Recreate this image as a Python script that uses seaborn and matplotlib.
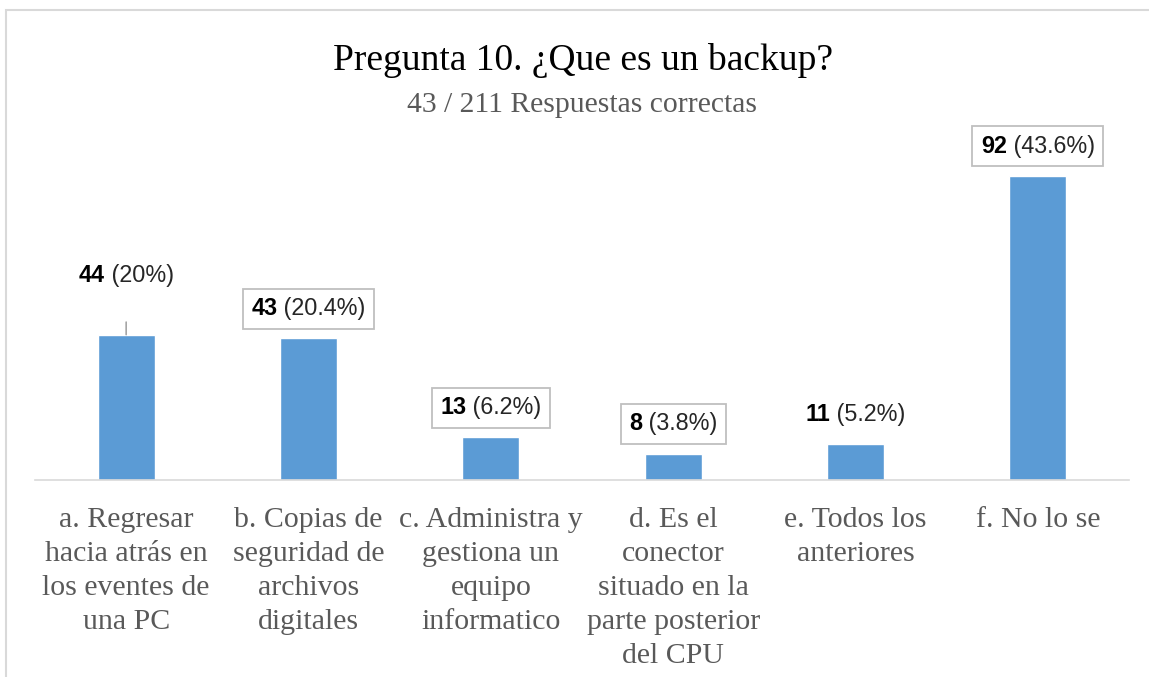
import matplotlib
matplotlib.use("Agg")
import matplotlib.pyplot as plt
import seaborn as sns
import pandas as pd
from matplotlib.offsetbox import TextArea, HPacker, AnnotationBbox
from matplotlib.patches import Rectangle

categories = [
    "a. Regresar\nhacia atrás en\nlos eventes de\nuna PC",
    "b. Copias de\nseguridad de\narchivos\ndigitales",
    "c. Administra y\ngestiona un\nequipo\ninformatico",
    "d. Es el\nconector\nsituado en la\nparte posterior\ndel CPU",
    "e. Todos los\nanteriores",
    "f. No lo se",
]
counts = [44, 43, 13, 8, 11, 92]
pcts = ["20%", "20.4%", "6.2%", "3.8%", "5.2%", "43.6%"]
label_y = [62.0, 51.8, 21.8, 17.0, 19.7, 101.0]
boxed = [False, True, True, True, False, True]
leader = [True, False, False, False, False, False]

title = "Pregunta 10. ¿Que es un backup?"
subtitle = "43 / 211 Respuestas correctas"

sns.set_theme(style="white")
plt.rcParams["font.family"] = ["Liberation Serif", "DejaVu Serif"]

W, H = 1149, 677
fig = plt.figure(figsize=(W / 100, H / 100), dpi=100)
ax = fig.add_axes([35 / W, 1 - 480 / H, (1129 - 35) / W, 330.4 / H])

df = pd.DataFrame({"cat": categories, "n": counts})
sns.barplot(data=df, x="cat", y="n", color="#5B9BD5", saturation=1, width=0.313, ax=ax)

ax.set_xlim(-0.5, 5.5)
ax.set_ylim(0, 100)
ax.set_xlabel("")
ax.set_ylabel("")
ax.set_yticks([])
ax.set_xticks(range(len(categories)), labels=categories, fontfamily=["Liberation Serif"],
              fontsize=21.5, color="#595959", linespacing=1.40, va="top")
for s in ["top", "right", "left"]:
    ax.spines[s].set_visible(False)
ax.spines["bottom"].set_color("#D9D9D9")
ax.spines["bottom"].set_linewidth(1.2)
ax.tick_params(axis="x", length=0, pad=19.5)

lab_font = ["Liberation Sans", "DejaVu Sans"]
for i, (n, p) in enumerate(zip(counts, pcts)):
    t1 = TextArea(str(n), textprops=dict(fontfamily=lab_font, fontweight="bold", fontsize=16.8, color="#000000"))
    t2 = TextArea(f" ({p})", textprops=dict(fontfamily=lab_font, fontsize=16.8, color="#262626"))
    pack = HPacker(children=[t1, t2], pad=0, sep=0, align="baseline")
    kw = {}
    if leader[i]:
        kw["arrowprops"] = dict(arrowstyle="-", color="#A6A6A6", lw=1.2, shrinkA=19, shrinkB=0)
    ab = AnnotationBbox(pack, xy=(i, n), xybox=(i, label_y[i]), xycoords="data",
                        boxcoords="data", frameon=boxed[i], pad=0.55,
                        bboxprops=dict(edgecolor="#BFBFBF", facecolor="white", lw=1.3),
                        annotation_clip=False, **kw)
    ax.add_artist(ab)

fig.text(583 / W, 1 - 60 / H, title, ha="center", va="center", fontsize=27,
         color="#000000", fontfamily=["Liberation Serif"])
fig.text(582 / W, 1 - 105 / H, subtitle, ha="center", va="center", fontsize=21.3,
         color="#595959", fontfamily=["Liberation Serif"])

fig.patches.append(Rectangle((6 / W, -0.1), 1.2, 1 - 10 / H + 0.1, transform=fig.transFigure,
                             fill=False, edgecolor="#D9D9D9", lw=1.5))

fig.savefig("out.png", dpi=100)
